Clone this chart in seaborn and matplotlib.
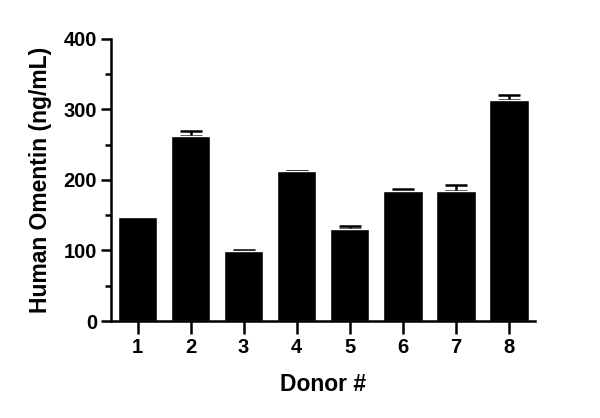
import numpy as np
import pandas as pd
import matplotlib
matplotlib.use('Agg')
import matplotlib.pyplot as plt
import seaborn as sns

donors = ['1', '2', '3', '4', '5', '6', '7', '8']
omentin = [148, 263, 99, 212, 130, 184, 184, 313]
sem = [0, 7, 1, 1, 5, 3, 9, 8]

df = pd.DataFrame({'donor': donors, 'omentin': omentin, 'sem': sem})

sns.set_style('ticks')
plt.rcParams['font.family'] = ['Liberation Sans', 'DejaVu Sans']
plt.rcParams['font.weight'] = 'bold'
plt.rcParams['text.color'] = 'black'
plt.rcParams['axes.labelcolor'] = 'black'
plt.rcParams['xtick.color'] = 'black'
plt.rcParams['ytick.color'] = 'black'

fig = plt.figure(figsize=(6, 4.18), dpi=100)
ax = fig.add_axes([0.185, 0.232, 0.707, 0.675])

sns.barplot(data=df, x='donor', y='omentin', color='black', width=0.75,
            saturation=1, ax=ax, zorder=2)
# only upper error bars, skip the ones with no error
pos = np.arange(len(donors))
has_err = df['sem'] > 0
ax.errorbar(pos[has_err], df['omentin'][has_err],
            yerr=[np.zeros(has_err.sum()), df['sem'][has_err]],
            fmt='none', ecolor='black', elinewidth=1.8, capsize=8, capthick=1.8,
            zorder=1)

ax.set_xlim(-0.5, 7.5)
ax.set_ylim(0, 400)
ax.set_yticks([0, 100, 200, 300, 400])
ax.set_yticks([50, 150, 250, 350], minor=True)
ax.set_xlabel('Donor #', fontsize=16.5, fontweight='bold', labelpad=12)
ax.set_ylabel('Human Omentin (ng/mL)', fontsize=16.5, fontweight='bold', labelpad=8)
ax.tick_params(axis='both', which='major', labelsize=14.5, width=1.8, length=7,
               color='black', labelcolor='black', pad=3)
ax.tick_params(axis='y', which='minor', width=1.8, length=4, color='black')
ax.tick_params(axis='x', length=9)
for lab in ax.get_xticklabels() + ax.get_yticklabels():
    lab.set_fontweight('bold')
for s in ['left', 'bottom']:
    ax.spines[s].set_linewidth(1.8)
    ax.spines[s].set_color('black')
sns.despine(ax=ax)

fig.savefig('out.png', dpi=100)
